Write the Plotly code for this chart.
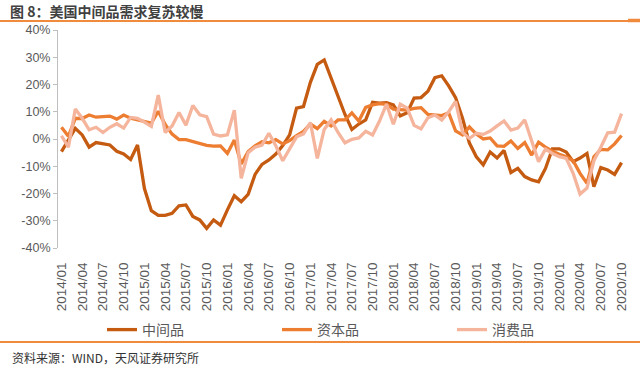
import plotly.graph_objects as go

months = [f"{y}/{m:02d}" for y in range(2014, 2021) for m in range(1, 13)][:82]

intermediate = [-4.6, -0.5, 3.9, 1.5, -3.0, -1.3, -1.8, -2.2, -4.5, -5.5, -7.5, -2.2,
                -18.2, -26.3, -28.0, -28.0, -27.3, -24.5, -24.2, -28.4, -29.7, -32.8, -29.7, -31.6,
                -26.0, -20.8, -23.0, -20.3, -13.0, -9.3, -7.7, -5.5, -2.4, 1.5, 11.3, 11.9,
                20.8, 27.4, 29.0, 22.5, 15.8, 9.0, 3.5, 5.5, 7.0, 13.5, 13.2, 13.3,
                12.5, 8.5, 9.6, 15.0, 15.2, 17.5, 22.5, 23.2, 19.5, 15.2, 7.6, -1.5,
                -6.5, -9.5, -4.8, -7.0, -4.2, -12.3, -10.8, -13.8, -15.0, -15.7, -10.8, -3.6,
                -3.6, -4.8, -8.3, -7.0, -5.3, -17.5, -10.5, -11.4, -13.0, -8.7]

capital = [4.3, 1.0, 7.6, 7.5, 8.8, 8.0, 8.2, 8.4, 7.3, 8.8, 7.6, 7.1,
           6.6, 5.8, 10.2, 5.3, 1.8, -0.2, -0.2, -1.0, -1.8, -2.3, -2.6, -2.5,
           -5.3, -0.4, -9.2, -4.6, -2.5, -1.0, -1.4, -0.2, -1.8, -0.6, 1.2, 2.8,
           5.5, 3.8, 6.5, 4.8, 7.0, 7.0, 9.6, 6.6, 11.6, 12.5, 13.0, 12.7,
           11.0, 10.8, 10.6, 11.2, 11.5, 9.0, 8.8, 8.6, 9.6, 3.0, 1.5, 4.4,
           1.8, 0.0, 0.4, -2.5, -2.7, -0.7, -3.5, -1.3, -5.9, -1.2, -3.0, -4.5,
           -5.6, -6.5, -8.0, -12.6, -16.3, -6.5, -3.8, -4.0, -1.8, 1.3]

consumer = [1.2, -3.0, 11.0, 7.6, 3.4, 4.3, 2.4, 4.3, 5.6, 4.0, 7.9, 7.6,
            6.2, 4.6, 16.1, 2.4, 4.8, 9.7, 5.1, 12.3, 8.9, 8.2, 1.8, 1.1,
            1.5, 10.6, -14.4, -5.0, -3.0, -2.2, 2.1, -2.5, -8.0, -3.6, 0.8, 1.9,
            6.0, -7.1, 3.5, 7.0, 2.4, -1.4, -0.1, 0.4, 2.8, 1.5, 6.6, 12.8,
            5.4, 12.8, 11.3, 5.0, 3.7, 7.8, 8.8, 7.0, 10.0, 13.8, 2.4, 0.2,
            2.1, 1.7, 2.9, 4.8, 6.6, 3.3, 4.0, 7.0, -0.4, -8.3, -3.7, -5.3,
            -6.5, -7.1, -12.6, -20.2, -18.0, -8.0, -3.0, 2.3, 2.5, 9.3]

series_names = ["中间品", "资本品", "消费品"]
series_colors = ["#C55A11", "#ED7D31", "#F5B49C"]

y_tickvals = [40, 30, 20, 10, 0, -10, -20, -30, -40]
y_ticktext = ["40%", "30%", "20%", "10%", "0%", "-10%", "-20%", "-30%", "-40%"]

x_idx = list(range(len(months)))
x_tickvals = x_idx[::3]
x_ticktext = months[::3]

fig = go.Figure()
for name, vals, col in zip(series_names, [intermediate, capital, consumer], series_colors):
    fig.add_trace(go.Scatter(x=x_idx, y=vals, mode="lines", name=name,
                             line=dict(color=col, width=3.3)))

x_font = dict(family="Liberation Sans, Arial, sans-serif", size=13.5, color="#595959")
y_font = dict(family="Liberation Sans, Arial, sans-serif", size=12.5, color="#595959")

W, H = 567, 218  # plot area in px

fig.update_layout(
    width=640, height=368,
    margin=dict(l=58, r=15, t=30, b=120),
    paper_bgcolor="white", plot_bgcolor="white",
    showlegend=True,
    legend=dict(orientation="h", x=(102 - 58) / W, y=-(330 - 248) / H,
                xanchor="left", yanchor="middle",
                font=dict(family="Noto Sans CJK SC, sans-serif", size=14, color="#595959"),
                entrywidth=130, entrywidthmode="pixels",
                bgcolor="rgba(0,0,0,0)"),
    xaxis=dict(range=[-0.5, len(months) - 0.5], tickvals=x_tickvals, ticktext=x_ticktext,
               tickangle=-90, showline=False, showgrid=False, zeroline=False,
               ticks="outside", ticklen=8, tickcolor="rgba(0,0,0,0)", tickfont=x_font),
    xaxis2=dict(overlaying="x", matches="x", anchor="free", position=0.5,
                range=[-0.5, len(months) - 0.5],
                tickvals=[v - 0.5 for v in x_tickvals] + [len(months) - 0.5],
                showticklabels=False, showline=True, linecolor="#D9D9D9", linewidth=1.5,
                ticks="outside", ticklen=4, tickcolor="#D9D9D9", showgrid=False, zeroline=False),
    yaxis=dict(range=[-40, 40], tickvals=y_tickvals, ticktext=y_ticktext,
               showline=True, linecolor="#BFBFBF", linewidth=1, ticks="outside", ticklen=4,
               tickcolor="#BFBFBF", showgrid=False, zeroline=False, tickfont=y_font),
    shapes=[
        dict(type="line", xref="paper", yref="paper", x0=-58 / W, x1=1 + 15 / W,
             y0=1 + 9 / H, y1=1 + 9 / H, line=dict(color="#F08A3C", width=2)),
        dict(type="line", xref="paper", yref="paper", x0=(628 - 58) / W, x1=1 + 15 / W,
             y0=1 + 9.5 / H, y1=1 + 9.5 / H, line=dict(color="#F08A3C", width=3.5)),
        dict(type="line", xref="paper", yref="paper", x0=-58 / W, x1=1 + 15 / W,
             y0=-(342 - 248) / H, y1=-(342 - 248) / H, line=dict(color="#F08A3C", width=2)),
    ],
    annotations=[
        dict(text="<b>图 8：美国中间品需求复苏较慢</b>", xref="paper", yref="paper",
             x=-50 / W, y=1 + 19 / H, xanchor="left", yanchor="middle", showarrow=False,
             font=dict(family="Noto Sans CJK SC, sans-serif", size=14, color="#404040")),
        dict(text="资料来源：WIND，天风证券研究所", xref="paper", yref="paper",
             x=-48 / W, y=-(357 - 248) / H, xanchor="left", yanchor="middle", showarrow=False,
             font=dict(family="Noto Sans CJK SC, sans-serif", size=12, color="#333333")),
    ],
)

fig.write_html("out.html", config={"displayModeBar": False},
               post_script="document.body.style.margin='0';")
